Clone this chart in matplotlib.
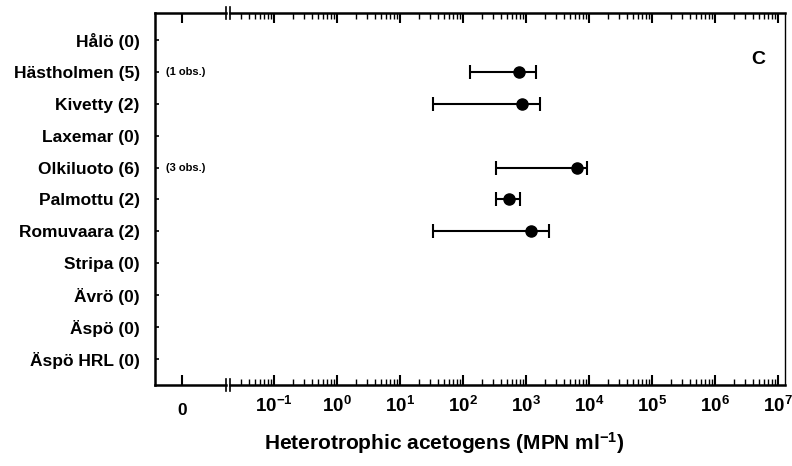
import numpy as np
import matplotlib
matplotlib.use("Agg")
import matplotlib.pyplot as plt
from matplotlib.ticker import LogLocator, FixedLocator, NullFormatter

plt.rcParams['font.family'] = ['Liberation Sans', 'DejaVu Sans']
plt.rcParams['font.weight'] = 'bold'
plt.rcParams['mathtext.fontset'] = 'custom'
plt.rcParams['mathtext.rm'] = 'Liberation Sans:bold'
plt.rcParams['mathtext.bf'] = 'Liberation Sans:bold'
plt.rcParams['mathtext.it'] = 'Liberation Sans:bold:italic'
plt.rcParams['mathtext.default'] = 'bf'

# ---- data ----
sites = ["Hålö (0)", "Hästholmen (5)", "Kivetty (2)", "Laxemar (0)", "Olkiluoto (6)",
         "Palmottu (2)", "Romuvaara (2)", "Stripa (0)", "Ävrö (0)", "Äspö (0)", "Äspö HRL (0)"]
mean_val = [np.nan, 774, 865, np.nan, 6458, 537, 1200, np.nan, np.nan, np.nan, np.nan]
low_val = [np.nan, 129, 33, np.nan, 334, 334, 33, np.nan, np.nan, np.nan, np.nan]
high_val = [np.nan, 1443, 1667, np.nan, 9290, 803, 2317, np.nan, np.nan, np.nan, np.nan]
obs_notes = {1: "(1 obs.)", 4: "(3 obs.)"}
decades = [-1, 0, 1, 2, 3, 4, 5, 6, 7]
xlabel = "Heterotrophic acetogens (MPN ml$^{-1}$)"
panel = "C"

W, H = 792, 466
fig = plt.figure(figsize=(W / 100, H / 100), dpi=100)

ax_l, ax_r0, ax_r1 = 155, 226, 230
ax_right, ax_top, ax_bot = 785, 13, 385
b = (H - ax_bot) / H
h = (ax_bot - ax_top) / H
ax0 = fig.add_axes([ax_l / W, b, (ax_r0 - ax_l) / W, h])
ax1 = fig.add_axes([ax_r1 / W, b, (ax_right - ax_r1) / W, h])

ypos = np.arange(len(sites))
ylim = (10.82, -0.85)

# left "0" segment
ax0.set_xlim(-0.38, 0.62)
ax0.set_ylim(*ylim)
ax0.set_xticks([0])
ax0.set_xticklabels(["0"], fontsize=12.5, fontweight='bold')
ax0.set_yticks(ypos)
ax0.set_yticklabels(sites, fontsize=12.5, fontweight='bold')
ax0.tick_params(axis='y', direction='in', length=3, width=1.2, pad=11)
ax0.tick_params(axis='x', which='major', direction='in', length=7, width=1.5,
                top=True, bottom=True, pad=13)
ax0.spines['right'].set_visible(False)
for s in ['left', 'bottom', 'top']:
    ax0.spines[s].set_linewidth(1.8)

# log segment
ax1.set_xscale('log')
ax1.set_xlim(10 ** -1.698, 10 ** 7.111)
ax1.set_ylim(*ylim)
ax1.set_yticks([])
ax1.xaxis.set_major_locator(FixedLocator([10.0 ** d for d in decades]))
ax1.set_xticklabels([r"$10^{\mathregular{%d}}$" % d for d in decades], fontsize=13.5)
ax1.xaxis.set_minor_locator(LogLocator(base=10, subs=np.arange(2, 10), numticks=100))
ax1.xaxis.set_minor_formatter(NullFormatter())
ax1.tick_params(axis='x', which='major', direction='in', length=7, width=1.5,
                top=True, bottom=True, pad=8)
ax1.tick_params(axis='x', which='minor', direction='in', length=4, width=1.0,
                top=True, bottom=True)
ax1.spines['left'].set_visible(False)
ax1.spines['right'].set_linewidth(1.0)
for s in ['bottom', 'top']:
    ax1.spines[s].set_linewidth(1.8)

mean_a = np.array(mean_val, float)
lo_a = np.array(low_val, float)
hi_a = np.array(high_val, float)
m = ~np.isnan(mean_a)
ax1.errorbar(mean_a[m], ypos[m], xerr=[mean_a[m] - lo_a[m], hi_a[m] - mean_a[m]],
             fmt='o', color='black', ms=8, elinewidth=1.5, capsize=5, capthick=1.5)

# annotations
for i, t in obs_notes.items():
    ax0.text(-0.23, i, t, fontsize=8, fontweight='bold', va='center', ha='left')
ax1.text(0.952, 0.875, panel, transform=ax1.transAxes, fontsize=14,
         fontweight='bold', ha='center', va='center')

# break marks
for xf in (ax_r0, ax_r1):
    for yp in (ax_top, ax_bot):
        fig.add_artist(plt.Line2D([xf / W, xf / W], [(H - yp - 6) / H, (H - yp + 6) / H],
                                  color='black', lw=1.2, transform=fig.transFigure))

fig.text(444 / W, 1 - 443 / H, xlabel, fontsize=15, fontweight='bold',
         ha='center', va='center')

fig.savefig("out.png", dpi=100)
